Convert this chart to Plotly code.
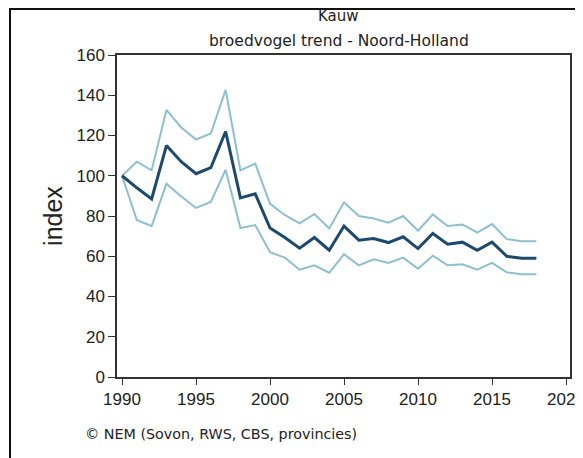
import plotly.graph_objects as go

years = list(range(1990, 2019))
index_main = [100, 94, 88.5, 115, 107, 101, 104, 122, 89, 91,
              74, 69.3, 64, 69.3, 63, 75, 68, 68.8, 66.8, 69.7,
              63.8, 71.3, 66, 67, 63, 67, 60, 59, 59]
index_upper = [100, 107, 102.7, 132.7, 124, 118, 121, 142.7, 102.7, 106,
               86, 80.5, 76.3, 81, 73.8, 86.8, 80, 78.8, 76.7, 80,
               72.7, 80.8, 75, 75.8, 71.8, 76, 68.5, 67.5, 67.5]
index_lower = [100, 78, 75, 96, 89.7, 84, 87, 103, 74, 75.5,
               62, 59.3, 53.3, 55.5, 51.8, 61, 55.5, 58.5, 56.7, 59.3,
               53.8, 60.3, 55.5, 56, 53.3, 56.7, 52, 51, 51]

x_ticks = [1990, 1995, 2000, 2005, 2010, 2015, 2020]
y_ticks = [0, 20, 40, 60, 80, 100, 120, 140, 160]

ci_color = "#8dbfd2"
main_color = "#1c4a6e"
text_color = "#222222"

# page body has an 8px margin, so the figure div starts at (8, 8)
L, T, PW, PH = 109, 47, 453, 322
W, H = 575, 450

fig = go.Figure()
fig.add_trace(go.Scatter(x=years, y=index_upper, mode="lines",
                         line=dict(color=ci_color, width=2), hoverinfo="skip"))
fig.add_trace(go.Scatter(x=years, y=index_lower, mode="lines",
                         line=dict(color=ci_color, width=2), hoverinfo="skip"))
fig.add_trace(go.Scatter(x=years, y=index_main, mode="lines",
                         line=dict(color=main_color, width=3)))

tick_font = dict(family="Liberation Sans, Arial, sans-serif", size=17, color=text_color)
title_font = dict(family="DejaVu Sans, Verdana, sans-serif", size=15, color=text_color)

def px_to_paper_y(div_y):
    return (T + PH - div_y) / PH

def px_to_paper_x(div_x):
    return (div_x - L) / PW

fig.update_layout(
    width=W, height=H,
    margin=dict(l=L, r=W - L - PW, t=T, b=H - T - PH, autoexpand=False),
    paper_bgcolor="white", plot_bgcolor="white",
    showlegend=False,
    xaxis=dict(
        range=[1989.66, 2020.27], tickvals=x_ticks, ticks="outside", ticklen=6,
        tickcolor="#333333", showline=True, linecolor="#333333", linewidth=1.5,
        mirror=True, showgrid=False, zeroline=False, tickfont=tick_font,
        ticklabeloverflow="allow", automargin=False,
    ),
    yaxis=dict(
        range=[0, 160], tickvals=y_ticks, ticks="outside", ticklen=7,
        tickcolor="#333333", showline=True, linecolor="#333333", linewidth=1.5,
        mirror=True, showgrid=False, zeroline=False, tickfont=tick_font,
        automargin=False,
        title=dict(text="index", font=dict(family="Liberation Sans, Arial, sans-serif",
                                           size=25, color=text_color), standoff=7),
    ),
    annotations=[
        dict(text="Kauw", xref="paper", yref="paper",
             x=px_to_paper_x(330), y=px_to_paper_y(8),
             xanchor="center", yanchor="middle", showarrow=False, font=title_font),
        dict(text="broedvogel trend - Noord-Holland", xref="paper", yref="paper",
             x=px_to_paper_x(331), y=px_to_paper_y(33),
             xanchor="center", yanchor="middle", showarrow=False,
             font=dict(family="DejaVu Sans, Verdana, sans-serif", size=15.5, color=text_color)),
        dict(text="© NEM (Sovon, RWS, CBS, provincies)",
             xref="paper", yref="paper", x=px_to_paper_x(75), y=px_to_paper_y(426),
             xanchor="left", yanchor="middle", showarrow=False,
             font=dict(family="DejaVu Sans, Verdana, sans-serif", size=14.3, color=text_color)),
    ],
    shapes=[dict(
        type="rect", xref="paper", yref="paper",
        x0=px_to_paper_x(2), x1=px_to_paper_x(700),
        y0=px_to_paper_y(600), y1=px_to_paper_y(1),
        line=dict(color="#111111", width=2), fillcolor="rgba(0,0,0,0)",
    )],
)

fig.write_html("out.html")
